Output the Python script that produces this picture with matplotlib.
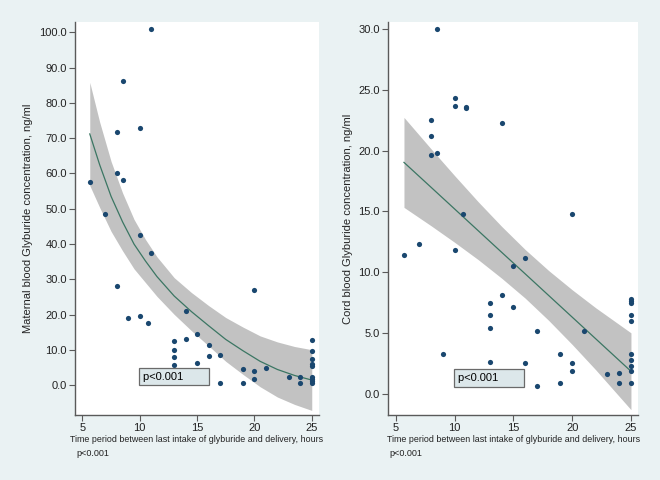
"""Glyburide concentration vs time since last dose: maternal and cord blood panels."""

import matplotlib

matplotlib.use("Agg")
import matplotlib.pyplot as plt  # noqa: E402

plt.rcParams["font.family"] = ["Liberation Sans", "DejaVu Sans"]

# maternal blood panel
mat_hours = [11, 8.5, 8, 10, 5.64, 8, 8.5, 7, 10, 11, 8, 9, 10, 10.7, 14, 20,
             13, 13, 13, 13, 14, 15, 15, 16, 16, 17, 17, 19, 19, 20, 20, 21,
             23, 24, 24, 25, 25, 25, 25, 25, 25, 25, 25, 25]
mat_conc = [101.0, 86.2, 71.8, 73.0, 57.7, 60.2, 58.2, 48.5, 42.5, 37.5, 28.2,
            19.2, 19.7, 17.6, 21.1, 26.9, 12.6, 9.9, 8.0, 5.8, 13.0, 14.5, 6.2,
            11.4, 8.2, 8.7, 0.7, 4.5, 0.7, 4.2, 1.7, 4.9, 2.3, 2.3, 0.7, 12.7,
            9.7, 7.4, 6.0, 5.5, 2.5, 1.9, 1.2, 0.7]
mat_fit_x = [5.64, 6.5, 7.5, 8.5, 9.5, 10.5, 11.5, 13, 14.5, 16, 17.5, 19,
             20.5, 22, 23.5, 25]
mat_fit_y = [71.2, 62.5, 53.5, 46.3, 40.0, 35.2, 30.8, 25.3, 20.9, 16.9, 13.0,
             9.8, 6.8, 4.5, 2.8, 1.5]
mat_fit_hi = [85.8, 74.6, 63.4, 54.5, 47.0, 41.3, 36.4, 30.5, 26.3, 22.6, 19.2,
              16.5, 14.0, 12.3, 11.0, 10.1]
mat_fit_lo = [56.6, 50.4, 43.6, 38.1, 33.0, 29.1, 25.2, 20.1, 15.5, 11.2, 6.8,
              3.1, -0.4, -3.3, -5.4, -7.1]
mat_yticks = [0, 10, 20, 30, 40, 50, 60, 70, 80, 90, 100]

# cord blood panel
cord_hours = [8.5, 10, 10, 11, 11, 8, 8, 8, 8.5, 14, 10.7, 20,
              5.7, 7, 10, 16, 15, 14, 13, 13, 13, 13, 15, 17, 9, 16, 17,
              19, 19, 20, 20, 21, 23, 24, 24, 25, 25, 25, 25, 25, 25, 25,
              25, 25, 25]
cord_conc = [30.0, 24.3, 23.7, 23.6, 23.5, 22.5, 21.2, 19.6, 19.8, 22.3, 14.8,
             14.8, 11.4, 12.3, 11.8, 11.2, 10.5, 8.1, 7.5, 6.5, 5.4, 2.6, 7.1,
             5.2, 3.3, 2.5, 0.6, 3.3, 0.9, 2.5, 1.9, 5.2, 1.6, 1.7, 0.9, 7.8,
             7.65, 7.45, 6.45, 6.0, 3.3, 2.75, 2.3, 1.9, 0.9]
cord_fit_x = [5.68, 8, 10, 12, 14, 16, 18, 20, 22, 25]
cord_fit_y = [19.03, 16.97, 15.19, 13.41, 11.63, 9.86, 8.08, 6.30, 4.52, 1.85]
cord_fit_hi = [22.73, 20.13, 17.93, 15.79, 13.76, 11.86, 10.13, 8.55, 7.07, 5.01]
cord_fit_lo = [15.33, 13.81, 12.45, 11.03, 9.50, 7.86, 6.03, 4.05, 1.97, -1.31]
cord_yticks = [0, 5, 10, 15, 20, 25, 30]

xticks = [5, 10, 15, 20, 25]
xlabel = "Time period between last intake of glyburide and delivery, hours"
p_text = "p<0.001"

BG = "#eaf2f3"
NAVY = "#1a476f"
LINE = "#3b7663"
BAND = "#c2c2c2"
AXIS = "#5a5a5a"


def draw_panel(ax, hours, conc, fx, fy, flo, fhi, yticks, ylim, ylabel, box_y):
    ax.set_facecolor("white")
    ax.fill_between(fx, flo, fhi, color=BAND, linewidth=0, zorder=1)
    ax.plot(fx, fy, color=LINE, linewidth=0.9, zorder=2)
    ax.scatter(hours, conc, s=14, color=NAVY, linewidths=0, zorder=3)

    ax.set_xlim(4.35, 25.63)
    ax.set_ylim(*ylim)
    ax.set_xticks(xticks)
    ax.set_yticks(yticks)
    ax.set_yticklabels([f"{v:.1f}" for v in yticks])
    ax.tick_params(axis="both", labelsize=8, length=4, width=0.8,
                   color=AXIS, labelcolor="#222222", pad=2)
    for side in ("top", "right"):
        ax.spines[side].set_visible(False)
    for side in ("left", "bottom"):
        ax.spines[side].set_color(AXIS)
        ax.spines[side].set_linewidth(1.0)

    ax.set_xlabel(xlabel, fontsize=6.4, labelpad=1.5, color="#222222")
    ax.set_ylabel(ylabel, fontsize=8, labelpad=4, color="#222222")
    ax.text(10.25, box_y, p_text + "       ", fontsize=8, ha="left", va="center",
            zorder=4,
            bbox=dict(boxstyle="square,pad=0.35", facecolor="#dce7ea",
                      edgecolor="#6a6a6a", linewidth=0.9))
    ax.text(0.005, -0.097, p_text, transform=ax.transAxes, fontsize=6.5,
            ha="left", va="center", color="#222222")


fig = plt.figure(figsize=(6.6, 4.8), dpi=100, facecolor=BG)
ax_left = fig.add_axes([0.1136, 0.1354, 0.3697, 0.8188])
ax_right = fig.add_axes([0.5884, 0.1354, 0.3788, 0.8188])

draw_panel(ax_left, mat_hours, mat_conc, mat_fit_x, mat_fit_y, mat_fit_lo,
           mat_fit_hi, mat_yticks, (-8.4, 102.9),
           "Maternal blood Glyburide concentration, ng/ml", 2.5)
draw_panel(ax_right, cord_hours, cord_conc, cord_fit_x, cord_fit_y, cord_fit_lo,
           cord_fit_hi, cord_yticks, (-1.75, 30.58),
           "Cord blood Glyburide concentration, ng/ml", 1.3)

fig.savefig("out.png", dpi=100, facecolor=BG)
plt.close(fig)
